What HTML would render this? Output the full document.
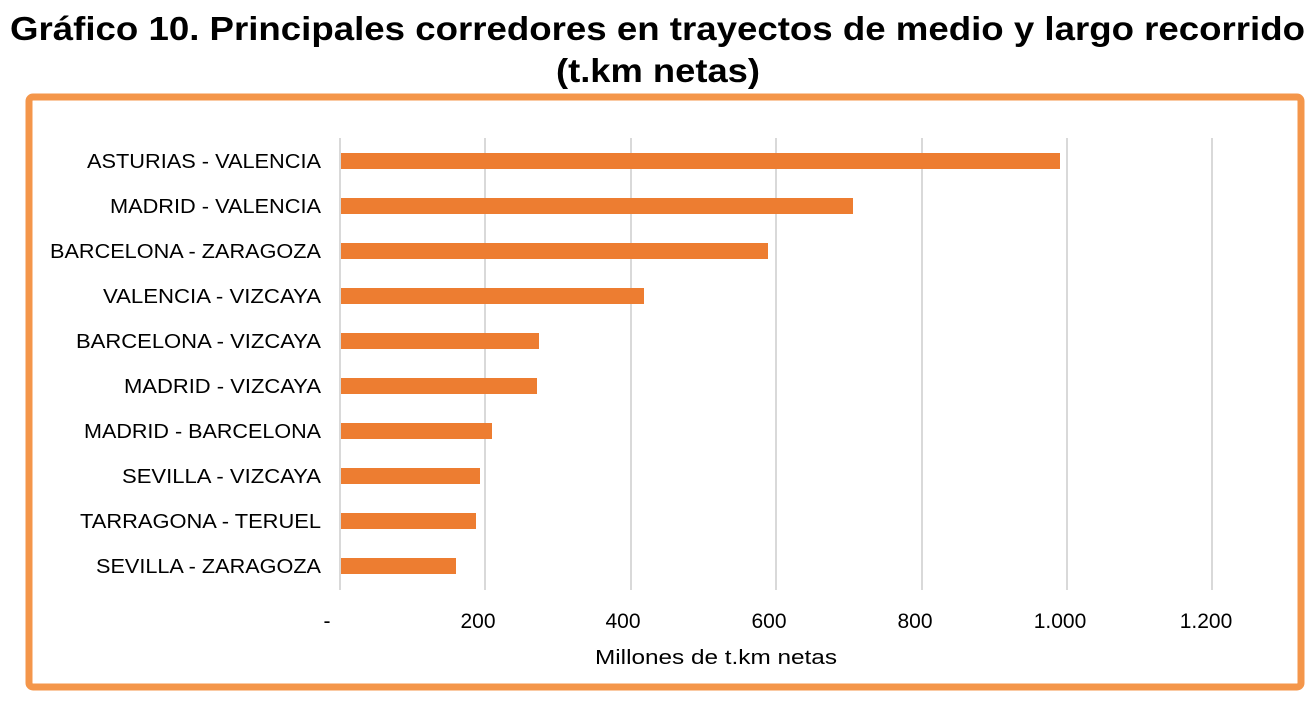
<!DOCTYPE html>
<html><head><meta charset="utf-8"><style>
body{margin:0;width:1315px;height:696px;background:#fff;overflow:hidden;font-family:"Liberation Sans",Arial,sans-serif}
</style></head><body>
<svg width="1315" height="696" xmlns="http://www.w3.org/2000/svg" font-family="Liberation Sans, Arial, sans-serif">
<text x="10" y="40" font-size="33" font-weight="bold" textLength="1295" lengthAdjust="spacingAndGlyphs">Gráfico 10. Principales corredores en trayectos de medio y largo recorrido</text>
<text x="556" y="82" font-size="33" font-weight="bold" textLength="204" lengthAdjust="spacingAndGlyphs">(t.km netas)</text>
<rect x="29" y="97" width="1272" height="590" rx="4" fill="none" stroke="#F4964A" stroke-width="7"/>
<g stroke="#d9d9d9" stroke-width="2">
<line x1="340" y1="138" x2="340" y2="590"/><line x1="485" y1="138" x2="485" y2="590"/><line x1="631" y1="138" x2="631" y2="590"/><line x1="776" y1="138" x2="776" y2="590"/><line x1="922" y1="138" x2="922" y2="590"/><line x1="1067" y1="138" x2="1067" y2="590"/><line x1="1212" y1="138" x2="1212" y2="590"/>
</g>
<g fill="#ED7D31">
<rect x="341" y="153" width="719" height="16"/>
<rect x="341" y="198" width="512" height="16"/>
<rect x="341" y="243" width="427" height="16"/>
<rect x="341" y="288" width="303" height="16"/>
<rect x="341" y="333" width="198" height="16"/>
<rect x="341" y="378" width="196" height="16"/>
<rect x="341" y="423" width="151" height="16"/>
<rect x="341" y="468" width="139" height="16"/>
<rect x="341" y="513" width="135" height="16"/>
<rect x="341" y="558" width="115" height="16"/>
</g>
<g font-size="20">
<text x="87" y="168" textLength="234" lengthAdjust="spacingAndGlyphs">ASTURIAS - VALENCIA</text>
<text x="110" y="213" textLength="211" lengthAdjust="spacingAndGlyphs">MADRID - VALENCIA</text>
<text x="50" y="258" textLength="271" lengthAdjust="spacingAndGlyphs">BARCELONA - ZARAGOZA</text>
<text x="103" y="303" textLength="218" lengthAdjust="spacingAndGlyphs">VALENCIA - VIZCAYA</text>
<text x="76" y="348" textLength="245" lengthAdjust="spacingAndGlyphs">BARCELONA - VIZCAYA</text>
<text x="124" y="393" textLength="197" lengthAdjust="spacingAndGlyphs">MADRID - VIZCAYA</text>
<text x="84" y="438" textLength="237" lengthAdjust="spacingAndGlyphs">MADRID - BARCELONA</text>
<text x="122" y="483" textLength="199" lengthAdjust="spacingAndGlyphs">SEVILLA - VIZCAYA</text>
<text x="80" y="528" textLength="241" lengthAdjust="spacingAndGlyphs">TARRAGONA - TERUEL</text>
<text x="96" y="573" textLength="225" lengthAdjust="spacingAndGlyphs">SEVILLA - ZARAGOZA</text>
</g>
<g font-size="21" text-anchor="middle">
<text x="327" y="628">-</text>
<text x="478" y="628">200</text>
<text x="623" y="628">400</text>
<text x="769" y="628">600</text>
<text x="915" y="628">800</text>
<text x="1060" y="628">1.000</text>
<text x="1206" y="628">1.200</text>
</g>
<text x="595" y="664" font-size="20" textLength="242" lengthAdjust="spacingAndGlyphs">Millones de t.km netas</text>
</svg>
</body></html>
